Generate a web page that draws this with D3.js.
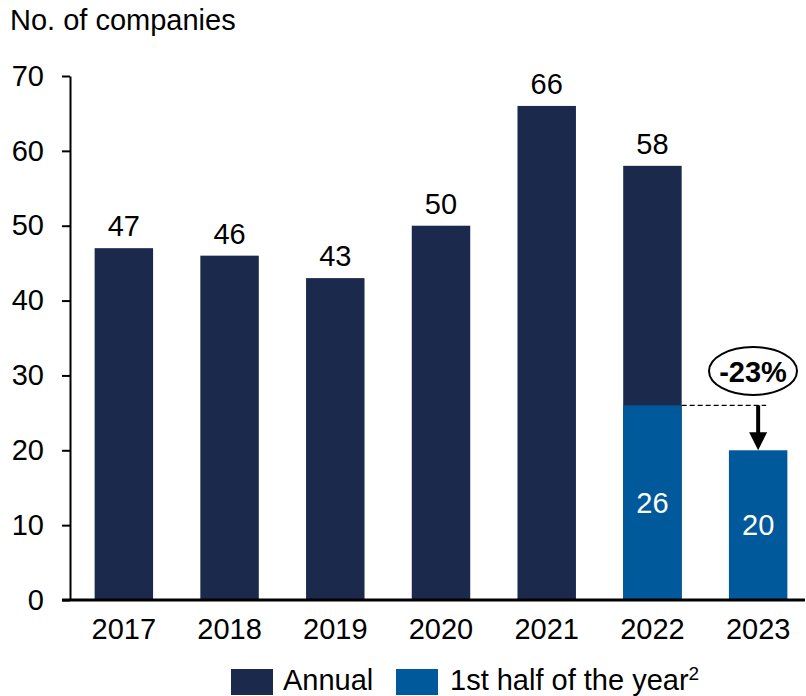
<!DOCTYPE html>
<html>
<head>
<meta charset="utf-8">
<script src="https://cdn.jsdelivr.net/npm/d3@7"></script>
<style>
  body { margin: 0; background: #fff; }
  text { font-family: "Liberation Sans", Arial, sans-serif; }
</style>
</head>
<body>
<svg width="806" height="696"></svg>
<script>
const years = ["2017", "2018", "2019", "2020", "2021", "2022", "2023"];
const annual = [47, 46, 43, 50, 66, 58, null];
const firstHalf = [null, null, null, null, null, 26, 20];
const yTicks = [0, 10, 20, 30, 40, 50, 60, 70];
const changeLabel = "-23%";

const navy = "#1b294c";
const blue = "#00599a";
const fs = 29;

const svg = d3.select("svg");

const x = d3.scaleBand()
    .domain(years)
    .range([71, 811])
    .paddingInner(0.447)
    .paddingOuter(0.2235);

const y = d3.scaleLinear().domain([0, 70]).range([600, 76]);

// title
svg.append("text")
    .attr("x", 10).attr("y", 30)
    .attr("font-size", fs)
    .text("No. of companies");

// y axis
const yAxis = svg.append("g")
    .attr("transform", "translate(70,0)")
    .call(d3.axisLeft(y).tickValues(yTicks).tickSize(8).tickPadding(18).tickSizeOuter(0));
yAxis.select(".domain").attr("stroke", "#000").attr("stroke-width", 2);
yAxis.selectAll(".tick line").attr("stroke", "#000").attr("stroke-width", 2);
yAxis.selectAll(".tick text")
    .attr("font-size", fs)
    .attr("font-family", "Liberation Sans, Arial, sans-serif")
    .attr("fill", "#000");

const rows = years.map((yr, i) => ({yr, a: annual[i], h: firstHalf[i]}));

// annual bars
svg.append("g").selectAll("rect")
    .data(rows.filter(d => d.a != null))
    .enter().append("rect")
    .attr("x", d => x(d.yr))
    .attr("width", x.bandwidth())
    .attr("y", d => y(d.a))
    .attr("height", d => y(0) - y(d.a))
    .attr("fill", navy);

// first half bars
svg.append("g").selectAll("rect")
    .data(rows.filter(d => d.h != null))
    .enter().append("rect")
    .attr("x", d => x(d.yr))
    .attr("width", x.bandwidth())
    .attr("y", d => y(d.h))
    .attr("height", d => y(0) - y(d.h))
    .attr("fill", blue);

// labels above bars
svg.append("g").selectAll("text")
    .data(rows.filter(d => d.a != null))
    .enter().append("text")
    .attr("x", d => x(d.yr) + x.bandwidth() / 2)
    .attr("y", d => y(d.a) - 12)
    .attr("text-anchor", "middle")
    .attr("font-size", fs)
    .text(d => d.a);

// labels inside blue bars
svg.append("g").selectAll("text")
    .data(rows.filter(d => d.h != null))
    .enter().append("text")
    .attr("x", d => x(d.yr) + x.bandwidth() / 2)
    .attr("y", d => (y(d.h) + y(0)) / 2 + 10)
    .attr("text-anchor", "middle")
    .attr("font-size", fs)
    .attr("fill", "#fff")
    .text(d => d.h);

// baseline
svg.append("line")
    .attr("x1", 62).attr("x2", 805)
    .attr("y1", y(0)).attr("y2", y(0))
    .attr("stroke", "#000").attr("stroke-width", 3);

// x labels
svg.append("g").selectAll("text")
    .data(years)
    .enter().append("text")
    .attr("x", d => x(d) + x.bandwidth() / 2)
    .attr("y", 639)
    .attr("text-anchor", "middle")
    .attr("font-size", fs)
    .text(d => d);

// change annotation
const xPrev = x("2022") + x.bandwidth();
const xCur = x("2023") + x.bandwidth() / 2;
svg.append("line")
    .attr("x1", xPrev).attr("x2", xCur + 8)
    .attr("y1", y(26)).attr("y2", y(26))
    .attr("stroke", "#000").attr("stroke-width", 1.2)
    .attr("stroke-dasharray", "5,3");
svg.append("line")
    .attr("x1", xCur).attr("x2", xCur)
    .attr("y1", y(26)).attr("y2", y(20) - 16)
    .attr("stroke", "#000").attr("stroke-width", 4);
svg.append("path")
    .attr("d", `M${xCur - 9},${y(20) - 18} L${xCur + 9},${y(20) - 18} L${xCur},${y(20)} Z`)
    .attr("fill", "#000");

svg.append("ellipse")
    .attr("cx", 753).attr("cy", 371)
    .attr("rx", 44).attr("ry", 24)
    .attr("fill", "#fff").attr("stroke", "#000").attr("stroke-width", 2);
svg.append("text")
    .attr("x", 753).attr("y", 382)
    .attr("text-anchor", "middle")
    .attr("font-size", fs).attr("font-weight", "bold")
    .text(changeLabel);

// legend
const legend = svg.append("g");
legend.append("rect").attr("x", 231).attr("y", 669).attr("width", 42).attr("height", 26).attr("fill", navy);
legend.append("text").attr("x", 283).attr("y", 690).attr("font-size", fs).text("Annual");
legend.append("rect").attr("x", 396).attr("y", 669).attr("width", 42).attr("height", 26).attr("fill", blue);
const lt = legend.append("text").attr("x", 450).attr("y", 690).attr("font-size", fs);
lt.append("tspan").text("1st half of the year");
lt.append("tspan").attr("font-size", 19).attr("dy", -10).text("2");
</script>
</body>
</html>
